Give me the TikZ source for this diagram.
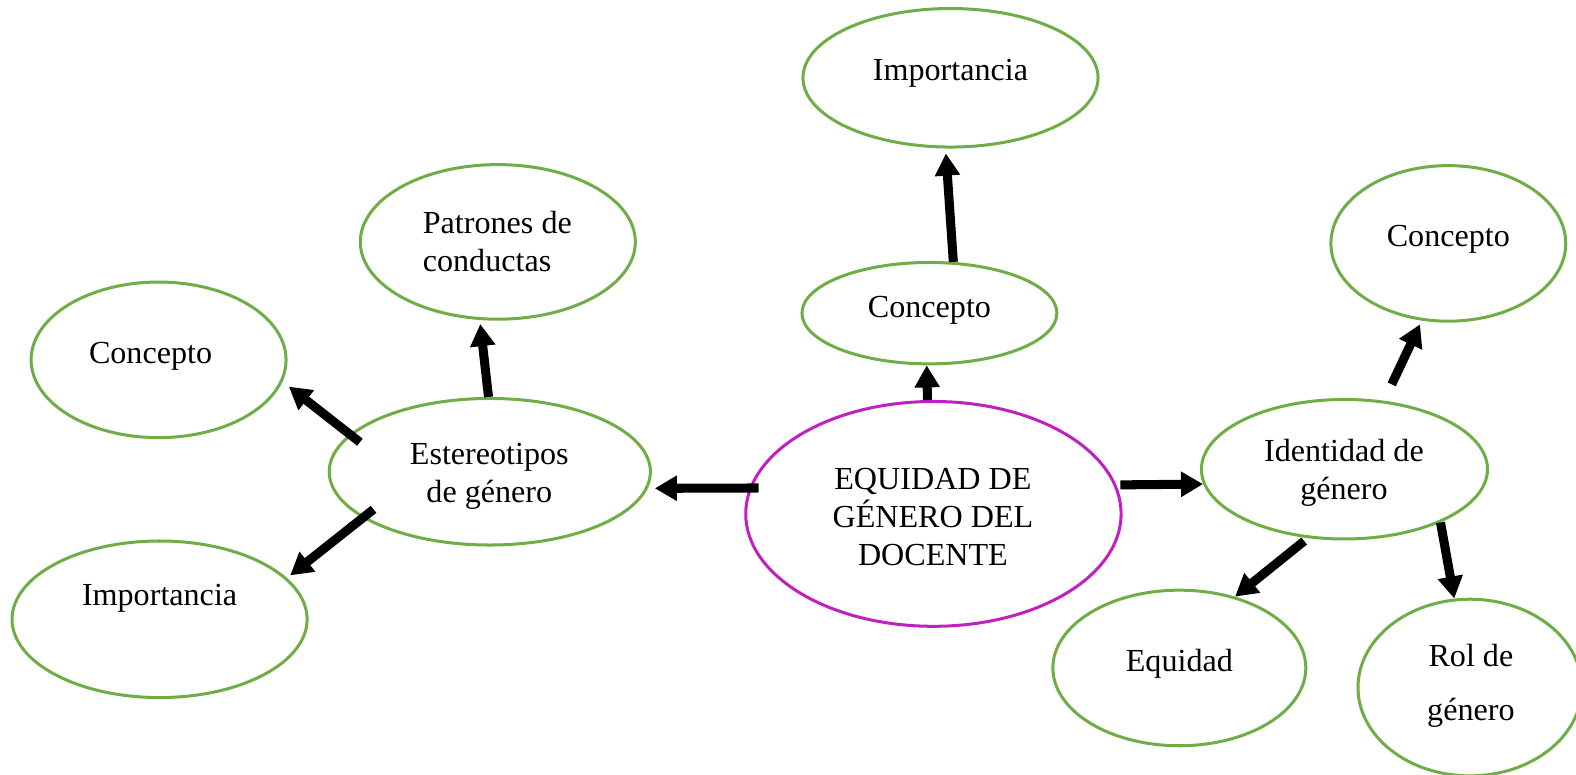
\documentclass[tikz,border=0pt]{standalone}
\usepackage{fontspec}
\setmainfont{Liberation Serif}
\usetikzlibrary{shapes.geometric,arrows.meta}
\definecolor{ovalgreen}{RGB}{112,173,71}
\definecolor{ovalmag}{RGB}{192,32,192}
\tikzset{
  oval/.style={ellipse, draw=ovalgreen, line width=1.5pt, inner sep=0pt},
  mainoval/.style={oval, draw=ovalmag},
  txt/.style={inner sep=0pt, align=center, font=\fontsize{16}{19}\selectfont},
  arr/.style={line width=4.5pt, -{Triangle[length=11pt,width=12pt]}},
}
\begin{document}
\begin{tikzpicture}[x=0.5pt,y=-0.5pt]
\useasboundingbox (0,0) rectangle (1570.2,772.1);
% ovals
\node[mainoval, minimum width=187pt, minimum height=112pt] (main) at (930,512) {};
\node[oval, minimum width=127pt, minimum height=50.5pt] (c1) at (926,312) {};
\node[oval, minimum width=147pt, minimum height=69pt] (i1) at (947,77.5) {};
\node[oval, minimum width=160pt, minimum height=73pt] (est) at (488,470) {};
\node[oval, minimum width=137pt, minimum height=77pt] (pat) at (496,241) {};
\node[oval, minimum width=127pt, minimum height=77.5pt] (c2) at (158,358.5) {};
\node[oval, minimum width=147pt, minimum height=78pt] (i2) at (159,617) {};
\node[oval, minimum width=142.5pt, minimum height=69.5pt] (id) at (1339.5,467.5) {};
\node[oval, minimum width=117pt, minimum height=77.5pt] (c3) at (1443,242.5) {};
\node[oval, minimum width=126pt, minimum height=77.5pt] (eq) at (1175,665.5) {};
\node[oval, minimum width=111.5pt, minimum height=88pt] (rol) at (1464.5,685) {};
% texts
\node[txt] (maintxt) at (929.5,515) {EQUIDAD DE\\GÉNERO DEL\\DOCENTE};
\node[txt] (c1txt) at (926,309.5) {Concepto};
\node[txt] (i1txt) at (947,73) {Importancia};
\node[txt] (esttxt) at (487.5,474.5) {Estereotipos\\de género};
\node[txt, align=left] (pattxt) at (495.5,240.5) {Patrones de\\conductas};
\node[txt] (c2txt) at (150,354.5) {Concepto};
\node[txt] (i2txt) at (159,596.5) {Importancia};
\node[txt] (idtxt) at (1339,471.5) {Identidad de\\género};
\node[txt] (c3txt) at (1443,238.5) {Concepto};
\node[txt] (eqtxt) at (1175,661) {Equidad};
\node[txt] (roltxt) at (1465.5,683.5) {Rol de\\[8pt]género};
% connectors
\draw[arr, shorten <=-4.7pt, shorten >=3.5pt] (main.172.4) -- (est.-6.7);
\draw[arr, shorten <=2pt] (main.9.6) -- (id.-174.5);
\draw[arr] (main.93) -- (c1.-93);
\draw[arr, shorten >=2.5pt] (c1.65.8) -- (i1.-94.6);
\draw[arr, shorten >=2pt] (est.91.2) -- (pat.-103.4);
\draw[arr, shorten <=-6.5pt, shorten >=4pt] (est.165.6) -- (c2.-10.7);
\draw[arr, shorten <=-7pt, shorten >=2pt] (est.200.6) -- (i2.18.5);
\draw[arr, shorten <=9pt, shorten >=2pt] (id.60.1) -- (c3.-109.4);
\draw[arr, shorten <=2.3pt] (id.-118) -- (eq.52.5);
\draw[arr] (id.-29.8) -- (rol.100.6);
\end{tikzpicture}
\end{document}
